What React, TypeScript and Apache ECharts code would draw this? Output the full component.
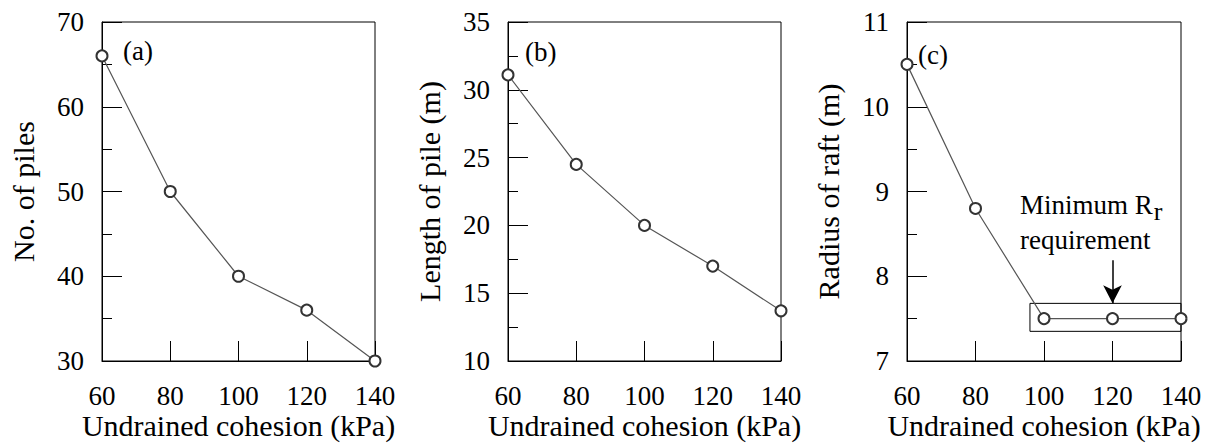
import React, { useEffect, useRef } from "react";
import * as echarts from "echarts";

const cohesion = [60, 80, 100, 120, 140];
const pileCount = [66, 50, 40, 36, 30];
const pileLength = [31.1, 24.5, 20, 17, 13.7];
const raftRadius = [10.5, 8.8, 7.5, 7.5, 7.5];

const xTitle = "Undrained cohesion (kPa)";
const yTitles = ["No. of piles", "Length of pile (m)", "Radius of raft (m)"];
const panelTags = ["(a)", "(b)", "(c)"];
const yRanges = [
  { min: 30, max: 70, interval: 10 },
  { min: 10, max: 35, interval: 5 },
  { min: 7, max: 11, interval: 1 },
];
// annotation in panel (c), data units
const boxCorners = [
  [95.9, 7.68],
  [144.5, 7.35],
];
const arrowFrom = [120, 8.19];
const arrowTo = [120, 7.68];

const FONT = "Liberation Serif";

export default function App() {
  const ref = useRef<HTMLDivElement>(null);
  useEffect(() => {
    if (!ref.current) return;
    const chart = echarts.init(ref.current, undefined, { renderer: "svg" });
    const grids = [
      { left: 102, top: 22, width: 273, height: 339 },
      { left: 508, top: 22, width: 273, height: 339 },
      { left: 907, top: 22, width: 274, height: 339 },
    ];
    const series = [pileCount, pileLength, raftRadius];
    const option: any = {
      animation: false,
      backgroundColor: "#fff",
      textStyle: { fontFamily: FONT },
      grid: grids.map((g) => ({
        ...g,
        outerBoundsMode: "none",
        containLabel: false,
        show: true,
        borderColor: "#000",
        borderWidth: 1,
        backgroundColor: "transparent",
      })),
      xAxis: grids.map((_, i) => ({
        type: "value",
        gridIndex: i,
        min: 60,
        max: 140,
        interval: 20,
        axisLine: { lineStyle: { color: "#000", width: 1 } },
        axisTick: { inside: true, length: 20, lineStyle: { color: "#000", width: 1 } },
        axisLabel: { margin: 21, fontSize: 27, color: "#000", fontFamily: FONT },
        splitLine: { show: false },
        name: xTitle,
        nameLocation: "middle",
        nameMoveOverlap: false,
        nameGap: 48,
        nameTextStyle: { fontSize: 30, color: "#000", fontFamily: FONT, lineHeight: 32 },
      })),
      yAxis: grids.map((_, i) => ({
        type: "value",
        gridIndex: i,
        ...yRanges[i],
        axisLine: { lineStyle: { color: "#000", width: 1 } },
        axisTick: { inside: true, length: 20, lineStyle: { color: "#000", width: 1 } },
        minorTick: { show: true, splitNumber: 2, length: 10, lineStyle: { color: "#000", width: 1 } },
        axisLabel: { margin: 18, fontSize: 27, color: "#000", fontFamily: FONT },
        splitLine: { show: false },
        minorSplitLine: { show: false },
        name: yTitles[i],
        nameLocation: "middle",
        nameMoveOverlap: false,
        nameGap: 64,
        nameTextStyle: { fontSize: 30, color: "#000", fontFamily: FONT },
      })),
      series: series.map((vals, i) => {
        const s: any = {
          type: "line",
          xAxisIndex: i,
          yAxisIndex: i,
          clip: false,
          data: cohesion.map((x, j) => [x, vals[j]]),
          symbol: "emptyCircle",
          symbolSize: 11,
          lineStyle: { color: "#555", width: 1.2 },
          itemStyle: { color: "#333", borderColor: "#333", borderWidth: 1.2 },
        };
        if (i === 2) {
          s.markArea = {
            silent: true,
            itemStyle: { color: "rgba(0,0,0,0)", borderColor: "#000", borderWidth: 1 },
            data: [[{ coord: boxCorners[0] }, { coord: boxCorners[1] }]],
          };
          s.markLine = {
            silent: true,
            symbol: ["none", "arrow"],
            symbolSize: [14, 18],
            label: { show: false },
            lineStyle: { color: "#000", width: 1.5, type: "solid" },
            data: [[{ coord: arrowFrom }, { coord: arrowTo }]],
          };
        }
        return s;
      }),
      graphic: [
        ...panelTags.map((t, i) => ({
          type: "text",
          left: [123, 525, 918][i],
          top: [37, 38, 41][i],
          style: { text: t, fontSize: 27, fontFamily: FONT, fill: "#000" },
        })),
        {
          type: "text",
          left: 1020,
          top: 186,
          style: {
            text: "{a|Minimum R}{s|r}\n{a|requirement}",
            fontFamily: FONT,
            fontSize: 27,
            rich: {
              a: { fontSize: 27, fontFamily: FONT, fill: "#000", lineHeight: 35 },
              s: { fontSize: 26, fontFamily: FONT, fill: "#000", lineHeight: 35, padding: [12, 0, 0, 1] },
            },
          },
        },
      ],
    };
    chart.setOption(option);
    return () => chart.dispose();
  }, []);
  return (
    <div
      ref={ref}
      style={{ position: "absolute", left: 0, top: 0, width: 1213, height: 443 }}
    />
  );
}
